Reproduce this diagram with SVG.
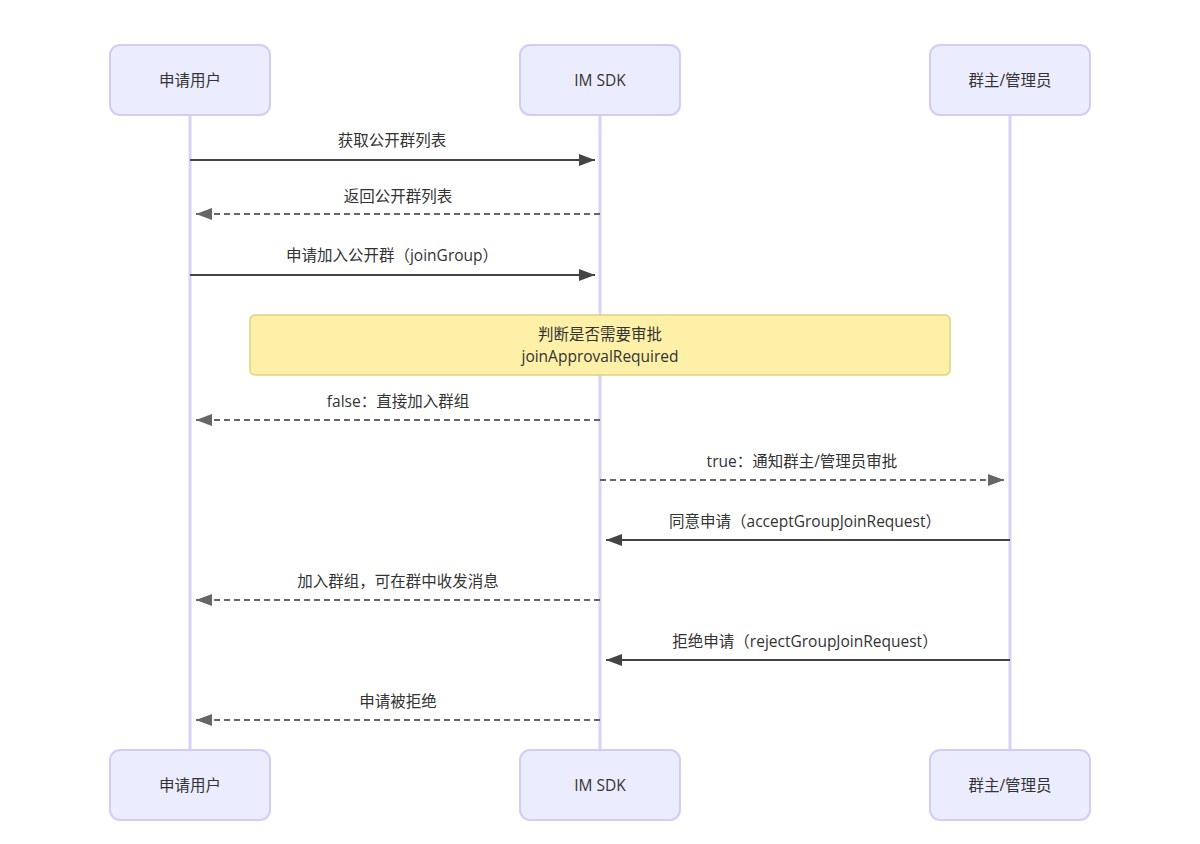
<svg xmlns="http://www.w3.org/2000/svg" width="1200" height="844" viewBox="0 0 1200 844">
<style>
text{font-family:"Open Sans","Noto Sans CJK SC",sans-serif;font-size:15.5px;fill:#333;text-anchor:middle}
.actor{fill:#ECECFF;stroke:#d3ccf6;stroke-width:2}
.life{stroke:#d9d2f7;stroke-width:3}
.solid{stroke:#444;stroke-width:2;fill:none}
.dash{stroke:#666;stroke-width:2;fill:none;stroke-dasharray:6 4}
.note{fill:#fff0a8;stroke:#e0d27f;stroke-width:1.5}
</style>
<defs>
<marker id="ah" markerWidth="16" markerHeight="12" refX="16" refY="6" orient="auto" markerUnits="userSpaceOnUse"><path d="M0,0 L16,6 L0,12 Z" fill="#444"/></marker>
<marker id="ahd" markerWidth="16" markerHeight="12" refX="16" refY="6" orient="auto" markerUnits="userSpaceOnUse"><path d="M0,0 L16,6 L0,12 Z" fill="#666"/></marker>
</defs>
<rect width="1200" height="844" fill="#fff"/>
<g id="lifelines">
<line class="life" x1="190" y1="115" x2="190" y2="750"/>
<line class="life" x1="600" y1="115" x2="600" y2="750"/>
<line class="life" x1="1010" y1="115" x2="1010" y2="750"/>
</g>
<g id="user-top"><rect class="actor" x="110" y="45" width="160" height="70" rx="10"/><text x="190" y="86">申请用户</text></g>
<g id="sdk-top"><rect class="actor" x="520" y="45" width="160" height="70" rx="10"/><text x="600" y="86">IM SDK</text></g>
<g id="admin-top"><rect class="actor" x="930" y="45" width="160" height="70" rx="10"/><text x="1010" y="86">群主/管理员</text></g>
<g id="user-bottom"><rect class="actor" x="110" y="750" width="160" height="70" rx="10"/><text x="190" y="791">申请用户</text></g>
<g id="sdk-bottom"><rect class="actor" x="520" y="750" width="160" height="70" rx="10"/><text x="600" y="791">IM SDK</text></g>
<g id="admin-bottom"><rect class="actor" x="930" y="750" width="160" height="70" rx="10"/><text x="1010" y="791">群主/管理员</text></g>
<g id="note"><rect class="note" x="250" y="315" width="700" height="60" rx="5"/><text x="600" y="340">判断是否需要审批</text><text x="600" y="362">joinApprovalRequired</text></g>
<g id="connectors">
<line class="solid" x1="190" y1="160" x2="595" y2="160" marker-end="url(#ah)"/>
<text x="392" y="146">获取公开群列表</text>
<line class="dash" x1="600" y1="214" x2="196" y2="214" marker-end="url(#ahd)"/>
<text x="398" y="202">返回公开群列表</text>
<line class="solid" x1="190" y1="275" x2="595" y2="275" marker-end="url(#ah)"/>
<text x="392" y="261">申请加入公开群（joinGroup）</text>
<line class="dash" x1="600" y1="420" x2="196" y2="420" marker-end="url(#ahd)"/>
<text x="398" y="407">false：直接加入群组</text>
<line class="dash" x1="600" y1="480" x2="1004" y2="480" marker-end="url(#ahd)"/>
<text x="802" y="467">true：通知群主/管理员审批</text>
<line class="solid" x1="1010" y1="540" x2="606" y2="540" marker-end="url(#ah)"/>
<text x="805" y="527">同意申请（acceptGroupJoinRequest）</text>
<line class="dash" x1="600" y1="600" x2="196" y2="600" marker-end="url(#ahd)"/>
<text x="398" y="587">加入群组，可在群中收发消息</text>
<line class="solid" x1="1010" y1="660" x2="606" y2="660" marker-end="url(#ah)"/>
<text x="805" y="647">拒绝申请（rejectGroupJoinRequest）</text>
<line class="dash" x1="600" y1="720" x2="196" y2="720" marker-end="url(#ahd)"/>
<text x="398" y="707">申请被拒绝</text>
</g>
</svg>
